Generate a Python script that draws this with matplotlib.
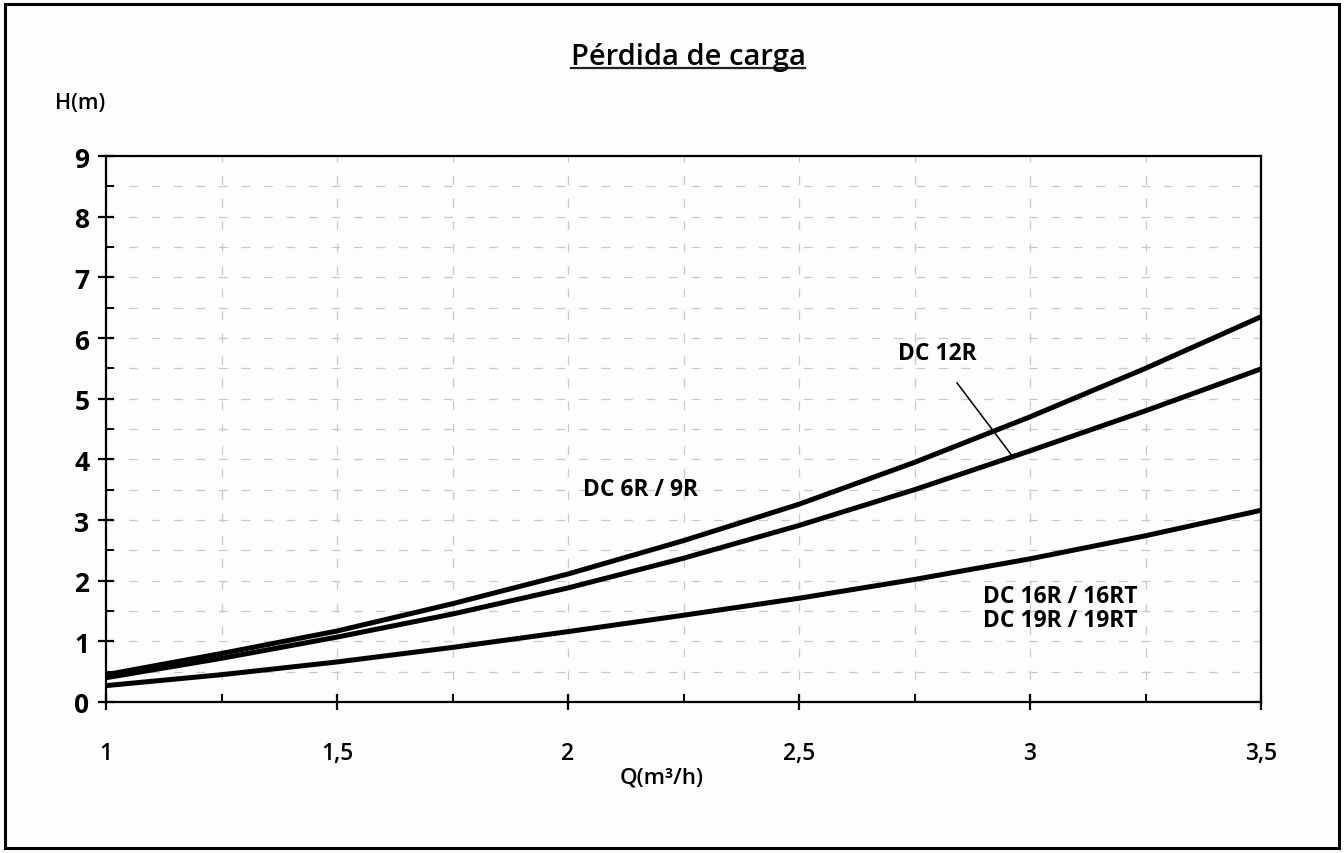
import numpy as np
import matplotlib
matplotlib.use('Agg')
import matplotlib.pyplot as plt
from matplotlib.patches import Rectangle
from matplotlib.lines import Line2D
from matplotlib.ticker import MultipleLocator, FixedLocator

plt.rcParams['font.family'] = ['Open Sans', 'DejaVu Sans']

# caudal Q (m3/h) and pérdida de carga H (m)
q = [1.0, 1.25, 1.5, 1.75, 2.0, 2.25, 2.5, 2.75, 3.0, 3.25, 3.5]
h_6r_9r = [0.45, 0.80, 1.17, 1.62, 2.11, 2.66, 3.26, 3.95, 4.70, 5.50, 6.35]
h_12r = [0.40, 0.72, 1.07, 1.45, 1.88, 2.37, 2.91, 3.50, 4.14, 4.80, 5.49]
h_16r_19r = [0.27, 0.45, 0.66, 0.90, 1.16, 1.43, 1.71, 2.02, 2.36, 2.74, 3.16]

x_ticks = [1, 1.5, 2, 2.5, 3, 3.5]
x_labels = ['1', '1,5', '2', '2,5', '3', '3,5']
y_ticks = list(range(0, 10))

fig = plt.figure(figsize=(13.44, 8.54), dpi=100, facecolor='white')
# outer frame
fig.add_artist(Rectangle((5/1344, 5/854), 1334/1344, 844/854, transform=fig.transFigure,
                         facecolor='#fdfdfb', edgecolor='black', lw=2.2, zorder=0))

ax = fig.add_axes([106/1344, 1-703/854, (1261-106)/1344, (703-157)/854])
ax.set_facecolor('#fdfdfb')

for h in [h_6r_9r, h_12r, h_16r_19r]:
    ax.plot(q, h, color='black', lw=3.6, solid_capstyle='butt', zorder=3)

ax.set_xlim(1, 3.5)
ax.set_ylim(0, 9)

ax.xaxis.set_major_locator(FixedLocator(x_ticks))
ax.set_xticklabels(x_labels)
ax.xaxis.set_minor_locator(MultipleLocator(0.25))
ax.yaxis.set_major_locator(FixedLocator(y_ticks))
ax.yaxis.set_minor_locator(MultipleLocator(0.5))

ax.grid(which='both', color='#c8c8c8', lw=0.9, linestyle=(0, (7, 11)), zorder=1)

for s in ax.spines.values():
    s.set_linewidth(1.6)

ax.tick_params(axis='y', which='major', direction='inout', length=12, width=1.6, pad=6,
               labelsize=19)
ax.tick_params(axis='x', which='major', direction='inout', length=12, width=1.6, pad=22,
               labelsize=16.5)
ax.tick_params(which='minor', direction='in', length=6, width=1.4)
for lb in ax.get_yticklabels():
    lb.set_fontweight('bold')
for lb in ax.get_xticklabels():
    lb.set_fontweight('semibold')

# annotations
ax.text(2.158, 3.51, 'DC 6R / 9R', ha='center', va='center', fontsize=16.5, fontweight='bold')
ax.text(2.80, 5.75, 'DC 12R', ha='center', va='center', fontsize=16.5, fontweight='bold')
ax.text(3.065, 1.55, 'DC 16R / 16RT\nDC 19R / 19RT', ha='center', va='center', fontsize=16.5,
        fontweight='bold', linespacing=1.05)
ax.plot([2.842, 2.963], [5.26, 4.04], color='black', lw=1.1, zorder=4)

fig.text(55/1344, 1-103/854, 'H(m)', ha='left', va='center', fontsize=15.5, fontweight='semibold')
fig.text(662/1344, 1-778/854, 'Q(m³/h)', ha='center', va='center', fontsize=16,
         fontweight='semibold')
title = fig.text(688/1344, 1-58/854, 'Pérdida de carga', ha='center', va='center',
                 fontsize=21, fontweight='semibold')

# underline the title
fig.canvas.draw()
bb = title.get_window_extent().transformed(fig.transFigure.inverted())
fig.add_artist(Line2D([bb.x0, bb.x1], [bb.y0 + 0.004, bb.y0 + 0.004], transform=fig.transFigure,
                      color='#222222', lw=1.6))

fig.savefig('out.png', dpi=100, facecolor='white')
